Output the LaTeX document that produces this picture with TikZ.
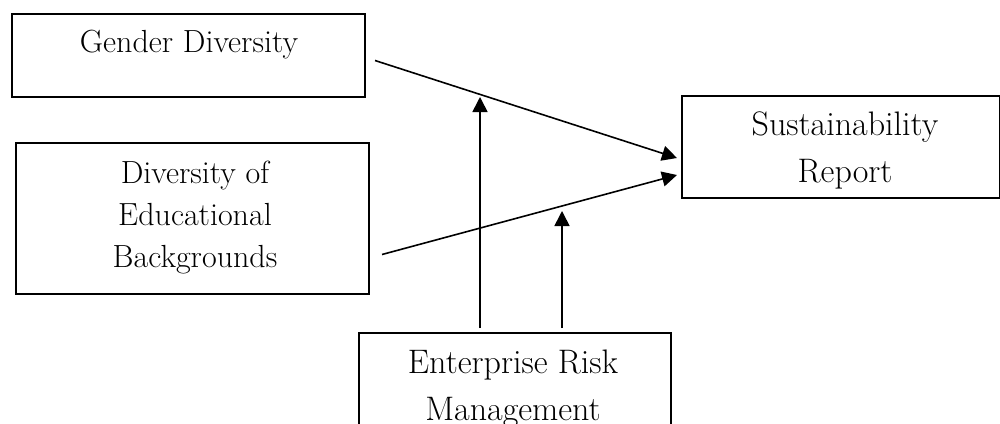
\documentclass[tikz,border=0pt]{standalone}
\usetikzlibrary{arrows.meta,positioning,calc}

\tikzset{
  box/.style={draw, line width=1pt, inner sep=0pt},
  txt/.style={align=center, inner sep=0pt},
  link/.style={line width=0.8pt, -{Triangle[length=7.5pt,width=7.5pt]}}
}

\begin{document}
\begin{tikzpicture}[x=0.5pt, y=-0.5pt]
\useasboundingbox (0,0) rectangle (1000,423);

% boxes
\node[box, minimum width=176.5pt, minimum height=41.5pt, anchor=north west] (gender) at (11,13) {};
\node[box, minimum width=176.5pt, minimum height=75.5pt, anchor=north west] (edu) at (15,142) {};
\node[box, minimum width=159pt, minimum height=51pt, anchor=north west] (report) at (681,95) {};
\node[box, minimum width=156pt, minimum height=60pt, anchor=north west] (erm) at (358,332) {};

% texts
\node[txt, anchor=base, font=\fontsize{16}{21}\selectfont] (gendertxt) at (189,52) {Gender Diversity};
\node[txt, anchor=base, font=\fontsize{16}{21}\selectfont] (edutxt) at (195,267) {Diversity of\\Educational\\Backgrounds};
\node[txt, anchor=base, font=\fontsize{17}{23.5}\selectfont] (reporttxt) at (845,182) {Sustainability\\Report};
\node[txt, anchor=base, font=\fontsize{17}{23.5}\selectfont] (ermtxt) at (513,420) {Enterprise Risk\\Management};

% points where the moderator hits the paths
\coordinate (m1) at (480,97);
\coordinate (m2) at (562,211);

% main paths
\draw[link] ($(gender.east)+(9,5)$) -- ($(report.west)+(-4,11)$);
\draw[link] ($(edu.east)+(12,36)$) -- ($(report.west)+(-4,28)$);

% moderator
\draw[link, shorten <=2pt] (erm.north -| m1) -- (m1);
\draw[link, shorten <=2pt] (erm.north -| m2) -- (m2);
\end{tikzpicture}
\end{document}
